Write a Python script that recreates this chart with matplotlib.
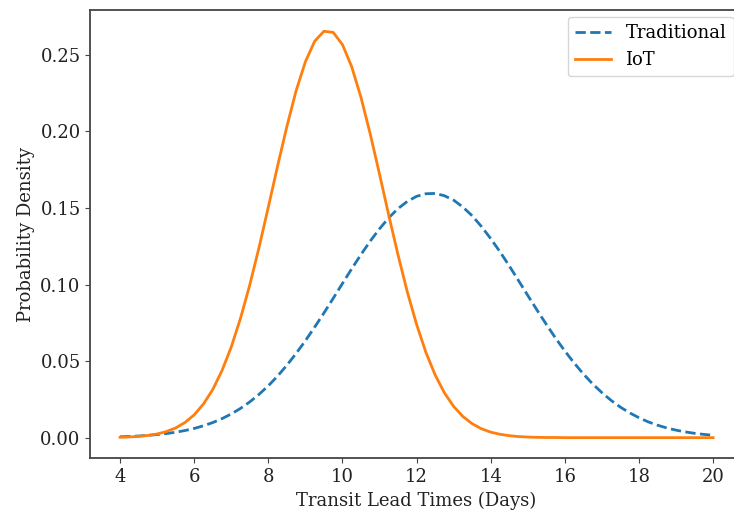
import numpy as np
import matplotlib
matplotlib.use("Agg")
import matplotlib.pyplot as plt

# transit lead time grid (days), 0.25 day steps from 4 to 20
days = np.arange(4, 20.01, 0.25)

# density values
traditional = [
    0.00057, 0.00079, 0.00108, 0.00148, 0.0020, 0.00267, 0.00354, 0.00464,
    0.00602, 0.00774, 0.00985, 0.01241, 0.01548, 0.01912, 0.02338, 0.0283,
    0.0339, 0.0402, 0.0473, 0.0550, 0.0633, 0.0722, 0.0814, 0.0910,
    0.1007, 0.1103, 0.1196, 0.1284, 0.1364, 0.1436, 0.1496, 0.1543,
    0.1576, 0.1593, 0.1595, 0.1580, 0.1551, 0.1506, 0.1449, 0.1379,
    0.1300, 0.1214, 0.1122, 0.1026, 0.0929, 0.0833, 0.0740, 0.0650,
    0.0566, 0.0488, 0.0416, 0.0351, 0.0294, 0.0243, 0.0199, 0.0162,
    0.0130, 0.0103, 0.00814, 0.00634, 0.00490, 0.00374, 0.00283, 0.00212,
    0.00157,
]
iot = [
    0.00025, 0.00046, 0.00082, 0.00143, 0.00241, 0.00397, 0.00634, 0.00987,
    0.0149, 0.0220, 0.0314, 0.0438, 0.0592, 0.0780, 0.0998, 0.1243,
    0.1506, 0.1774, 0.2032, 0.2266, 0.2455, 0.2589, 0.2654, 0.2647,
    0.2567, 0.2422, 0.2222, 0.1983, 0.1721, 0.1452, 0.1193, 0.0952,
    0.0740, 0.0558, 0.0410, 0.0293, 0.0204, 0.0138, 0.0091, 0.0058,
    0.0036, 0.0022, 0.0013, 0.0007, 0.0004, 0.0002, 0.0001, 0.0001,
    0.0, 0.0, 0.0, 0.0, 0.0, 0.0, 0.0, 0.0,
    0.0, 0.0, 0.0, 0.0, 0.0, 0.0, 0.0, 0.0,
    0.0,
]

plt.rcParams["font.family"] = ["DejaVu Serif", "DejaVu Sans"]
plt.rcParams["axes.edgecolor"] = "#444444"
plt.rcParams["axes.linewidth"] = 1.3

fig = plt.figure(figsize=(7.34, 5.18), dpi=100)
# the original is cropped on the right, so the axes run past the canvas
ax = fig.add_axes([0.1232, 0.1158, 0.8887, 0.8649])

ax.plot(days, traditional, "--", color="#1f77b4", lw=2, label="Traditional")
ax.plot(days, iot, "-", color="#ff7f0e", lw=2, label="IoT")

ax.set_xlim(3.2, 20.8)
ax.set_ylim(-0.0133, 0.2793)
ax.set_xticks(range(4, 21, 2))
ax.set_yticks([0.0, 0.05, 0.10, 0.15, 0.20, 0.25])
ax.set_yticklabels(["0.00", "0.05", "0.10", "0.15", "0.20", "0.25"])
ax.tick_params(labelsize=13, color="#444444", labelcolor="#222222")

ax.set_xlabel("Transit Lead Times (Days)", fontsize=13, color="#222222")
ax.set_ylabel("Probability Density", fontsize=13, color="#222222")

ax.legend(loc="upper right", bbox_to_anchor=(0.986, 0.985), borderaxespad=0,
          fontsize=13)

fig.savefig("out.png", dpi=100)
